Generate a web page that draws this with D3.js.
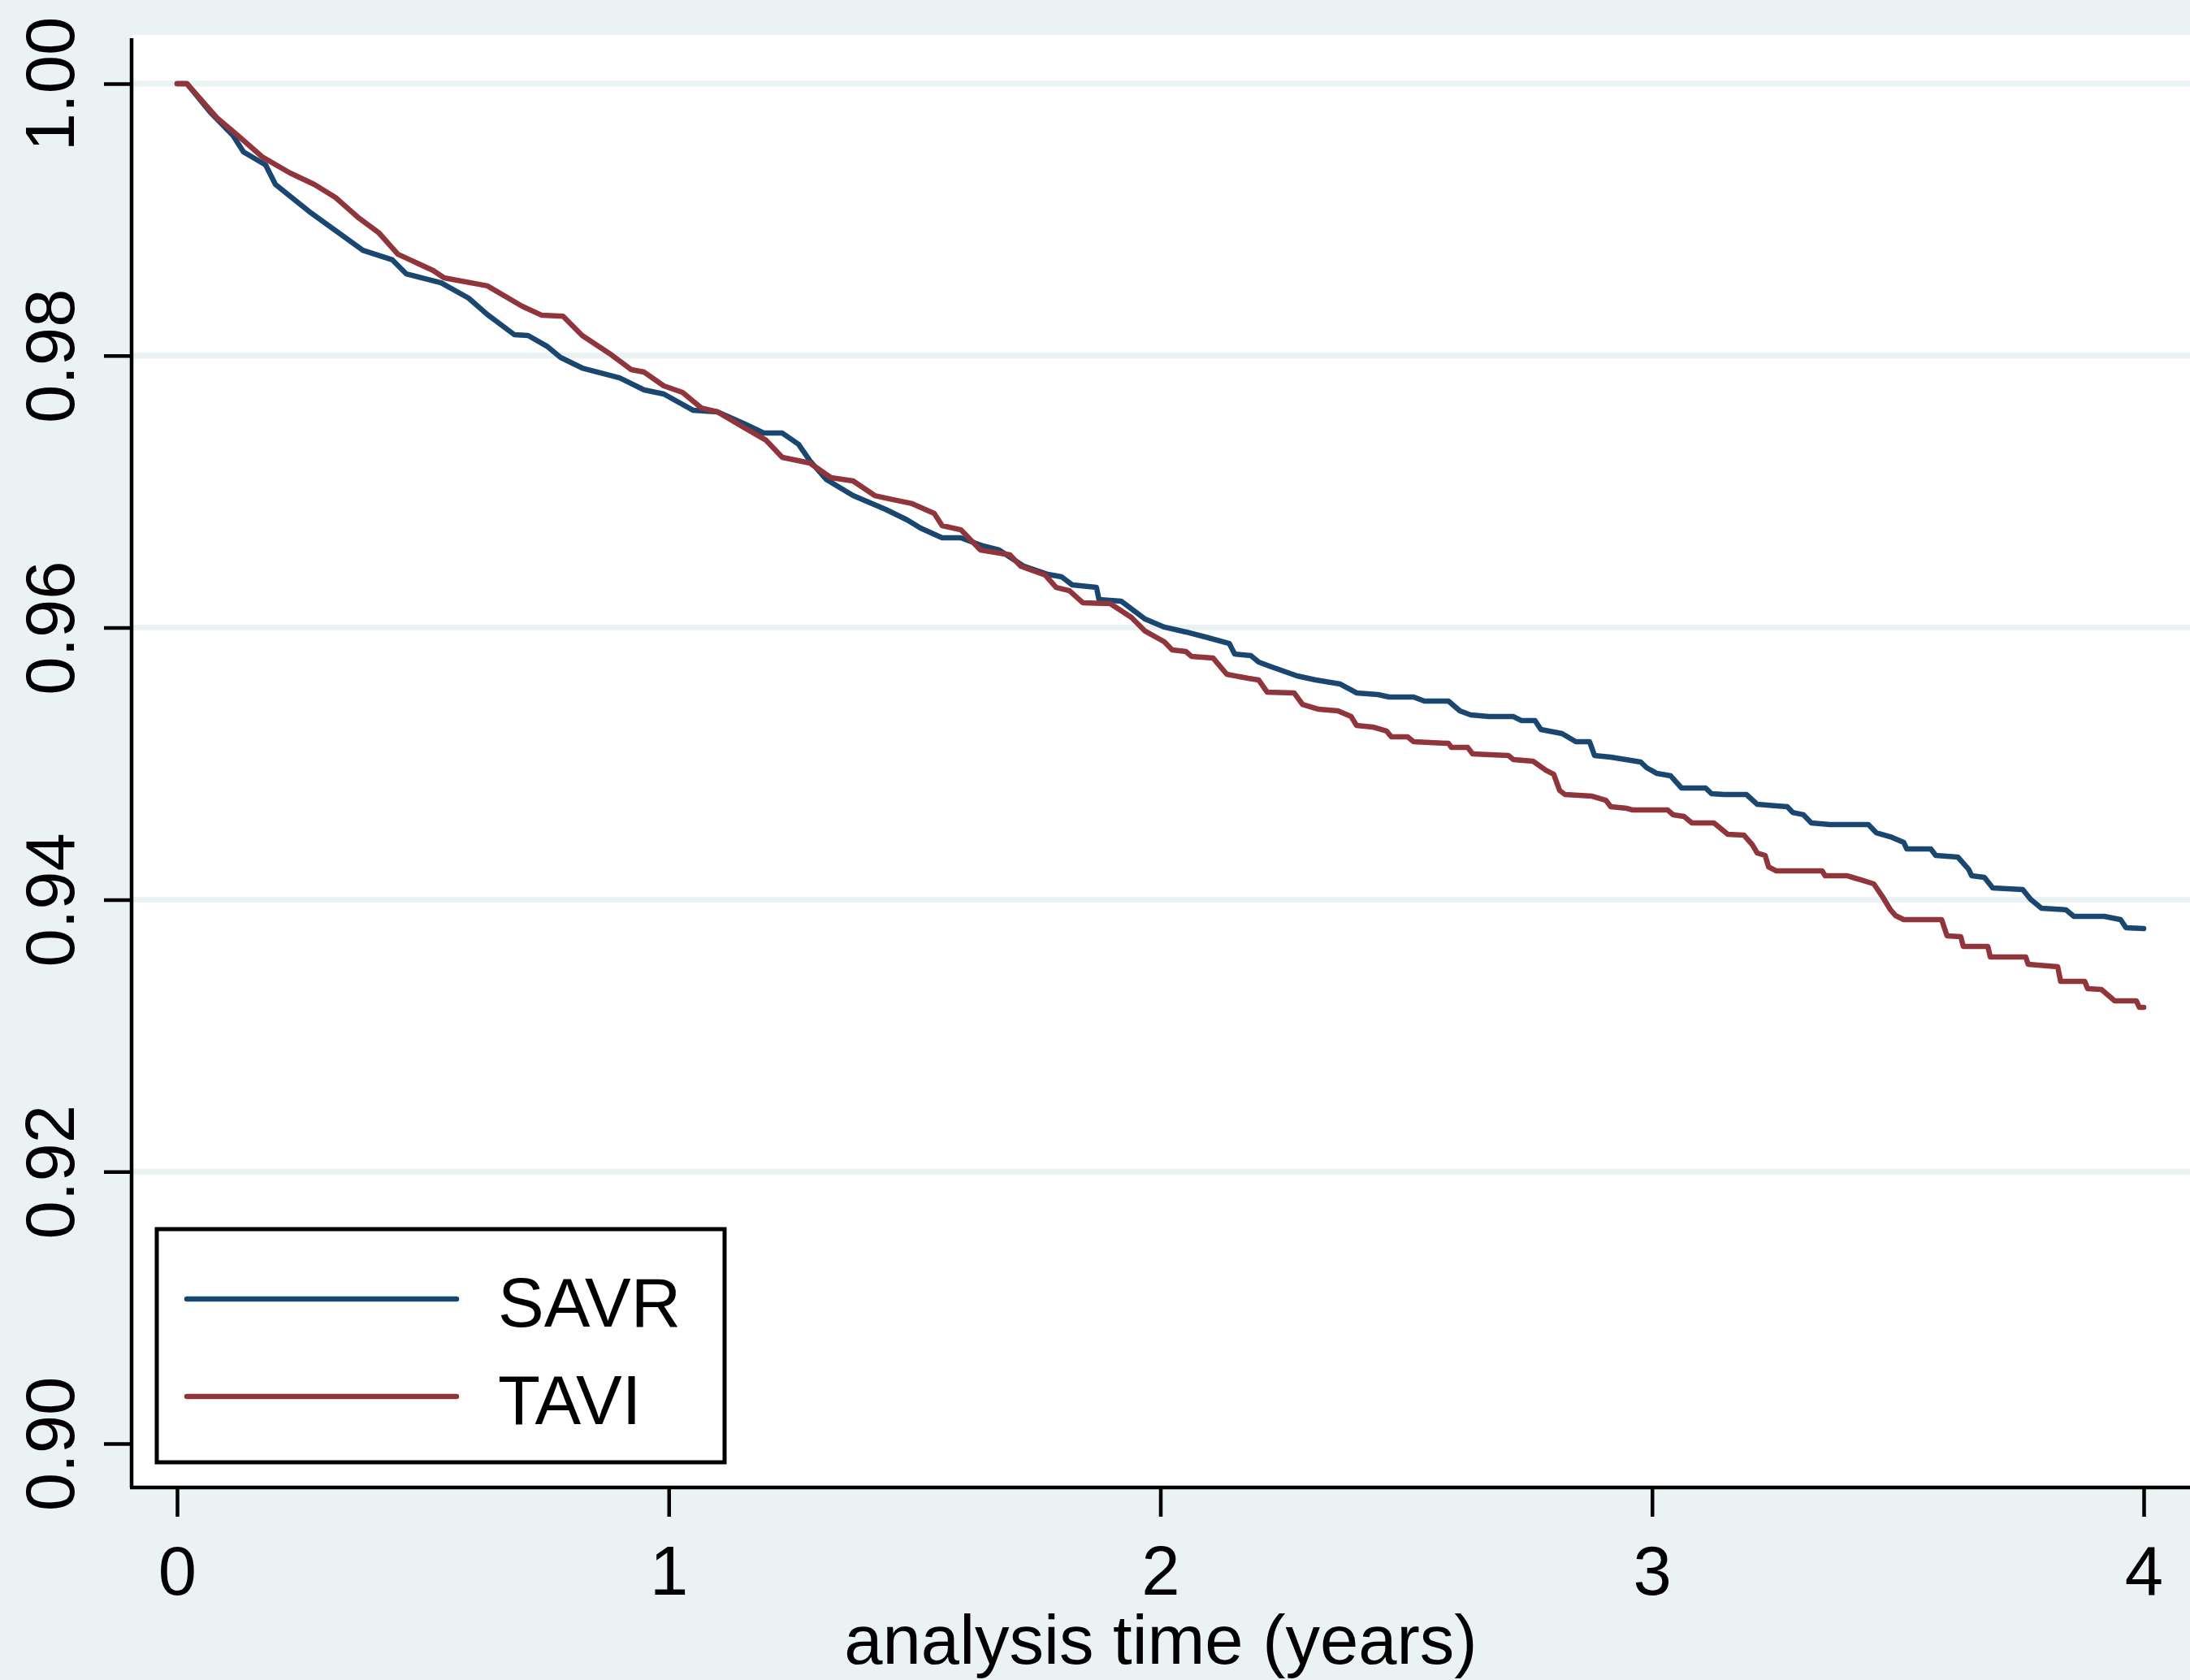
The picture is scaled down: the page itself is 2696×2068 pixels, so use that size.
<!DOCTYPE html>
<html lang="en">
<head>
<meta charset="UTF-8">
<title>Kaplan-Meier: SAVR vs TAVI</title>
<script src="https://d3js.org/d3.v7.min.js"></script>
<style>
    body { margin: 0; background: #eaf2f3; }
    svg { display: block; font-family: "Liberation Sans", Arial, sans-serif; }
</style>
</head>
<body>
<svg width="2696" height="2068"></svg>
<script>
// survival estimates: [time (years), survival]
const savr = [
    [0, 1.0], [0.02, 1.0], [0.07, 0.9978], [0.114, 0.99618], [0.135, 0.99498], [0.18, 0.99403],
    [0.20, 0.99259], [0.268, 0.99062], [0.284, 0.9902], [0.378, 0.98775], [0.438, 0.98704],
    [0.466, 0.98602], [0.537, 0.98536], [0.593, 0.98423], [0.631, 0.98303], [0.686, 0.98154],
    [0.714, 0.98148], [0.752, 0.9807], [0.78, 0.97987], [0.824, 0.97909], [0.9, 0.97837],
    [0.95, 0.97748], [0.99, 0.97718], [1.049, 0.97599], [1.099, 0.97587], [1.155, 0.97497],
    [1.193, 0.97431], [1.231, 0.97431], [1.264, 0.97348], [1.287, 0.97228], [1.32, 0.97091],
    [1.375, 0.96971], [1.441, 0.9687], [1.485, 0.96792], [1.512, 0.96732], [1.556, 0.96661],
    [1.594, 0.96661], [1.639, 0.96601], [1.672, 0.96571], [1.722, 0.96452], [1.771, 0.96392],
    [1.799, 0.96374], [1.821, 0.96314], [1.87, 0.96296], [1.875, 0.96207], [1.92, 0.96195],
    [1.969, 0.96063], [2.008, 0.96004], [2.052, 0.95968], [2.097, 0.95926], [2.14, 0.95884],
    [2.151, 0.95806], [2.184, 0.95794], [2.2, 0.95747], [2.222, 0.95717], [2.278, 0.95645],
    [2.316, 0.95615], [2.366, 0.95585], [2.399, 0.9552], [2.443, 0.95508], [2.465, 0.9549],
    [2.515, 0.9549], [2.537, 0.9546], [2.586, 0.9546], [2.609, 0.95388], [2.631, 0.95358],
    [2.668, 0.95346], [2.718, 0.95346], [2.734, 0.95317], [2.762, 0.95317], [2.774, 0.95251],
    [2.817, 0.95221], [2.845, 0.95161], [2.873, 0.95161], [2.883, 0.9506], [2.916, 0.95048],
    [2.977, 0.95012], [2.989, 0.9497], [3.01, 0.94928], [3.038, 0.9491], [3.06, 0.94821],
    [3.109, 0.94821], [3.121, 0.94779], [3.147, 0.94773], [3.192, 0.94773], [3.214, 0.94701],
    [3.253, 0.94689], [3.275, 0.94683], [3.286, 0.94641], [3.308, 0.94624], [3.324, 0.94564],
    [3.362, 0.94552], [3.44, 0.94552], [3.456, 0.94492], [3.485, 0.94462], [3.512, 0.9442],
    [3.518, 0.94373], [3.567, 0.94373], [3.577, 0.94325], [3.622, 0.94313], [3.644, 0.94223],
    [3.65, 0.94176], [3.676, 0.94164], [3.693, 0.94086], [3.754, 0.94074], [3.77, 0.94002],
    [3.792, 0.93937], [3.842, 0.93925], [3.858, 0.93877], [3.92, 0.93877], [3.953, 0.93853],
    [3.964, 0.93793], [4.0, 0.93787]
];

const tavi = [
    [0, 1.0], [0.02, 1.0], [0.081, 0.99749], [0.124, 0.99618], [0.173, 0.99462], [0.23, 0.99343],
    [0.279, 0.99259], [0.322, 0.99164], [0.367, 0.9902], [0.411, 0.98901], [0.449, 0.98746],
    [0.521, 0.98626], [0.543, 0.98572], [0.631, 0.98513], [0.702, 0.98363], [0.742, 0.98297],
    [0.785, 0.9829], [0.824, 0.98148], [0.879, 0.98017], [0.924, 0.97897], [0.95, 0.97879],
    [0.99, 0.97778], [1.028, 0.9773], [1.066, 0.97616], [1.099, 0.97587], [1.155, 0.97467],
    [1.198, 0.97378], [1.231, 0.97252], [1.287, 0.9721], [1.33, 0.97103], [1.375, 0.97079],
    [1.419, 0.96971], [1.457, 0.96941], [1.495, 0.96912], [1.54, 0.9684], [1.556, 0.9675],
    [1.594, 0.9672], [1.634, 0.96571], [1.694, 0.96535], [1.716, 0.96452], [1.766, 0.96386],
    [1.788, 0.96296], [1.815, 0.96272], [1.842, 0.96183], [1.898, 0.96177], [1.941, 0.96075],
    [1.969, 0.95974], [2.008, 0.95896], [2.024, 0.95836], [2.052, 0.95824], [2.063, 0.95789],
    [2.107, 0.95777], [2.135, 0.95657], [2.179, 0.95627], [2.2, 0.95615], [2.217, 0.95526],
    [2.272, 0.9552], [2.289, 0.95436], [2.322, 0.954], [2.361, 0.95388], [2.388, 0.95346],
    [2.399, 0.95281], [2.432, 0.95269], [2.46, 0.95239], [2.47, 0.95197], [2.503, 0.95197],
    [2.515, 0.95161], [2.586, 0.95149], [2.592, 0.95119], [2.625, 0.95119], [2.635, 0.95072],
    [2.708, 0.9506], [2.718, 0.9503], [2.758, 0.95018], [2.784, 0.94952], [2.8, 0.94922],
    [2.812, 0.94803], [2.823, 0.94773], [2.878, 0.94761], [2.906, 0.94731], [2.916, 0.94683],
    [2.949, 0.94671], [2.961, 0.94659], [3.032, 0.94659], [3.043, 0.94624], [3.065, 0.94612],
    [3.081, 0.94564], [3.126, 0.94564], [3.154, 0.9448], [3.187, 0.94474], [3.204, 0.94403],
    [3.214, 0.94343], [3.23, 0.94325], [3.237, 0.94241], [3.253, 0.94211], [3.346, 0.94211],
    [3.352, 0.94176], [3.396, 0.94176], [3.424, 0.94146], [3.451, 0.94116], [3.468, 0.94026],
    [3.485, 0.93925], [3.495, 0.93883], [3.512, 0.93853], [3.589, 0.93853], [3.6, 0.93733],
    [3.628, 0.93728], [3.633, 0.93656], [3.683, 0.93656], [3.688, 0.93578], [3.76, 0.93578],
    [3.765, 0.93524], [3.825, 0.93507], [3.831, 0.93399], [3.88, 0.93399], [3.886, 0.93345],
    [3.914, 0.93339], [3.941, 0.93256], [3.985, 0.93256], [3.991, 0.93208], [4.0, 0.93208]
];

const xTicks = [0, 1, 2, 3, 4];
const yTicks = [0.90, 0.92, 0.94, 0.96, 0.98, 1.00];
const gridTicks = [0.92, 0.94, 0.96, 0.98, 1.00];
const seriesNames = ['SAVR', 'TAVI'];
const seriesColors = ['#1a476f', '#90353b'];

const svg = d3.select('svg');
const bg = '#eaf2f3';
const font = 85;

// plot region edges
const plotL = 162, plotR = 2696, plotT = 43, plotB = 1831;

const x = d3.scaleLinear().domain([0, 4]).range([218, 2639]);
const y = d3.scaleLinear().domain([0.90, 1.00]).range([1777, 103]);

svg.append('rect').attr('width', 2696).attr('height', 2068).attr('fill', bg);
svg.append('rect')
    .attr('x', plotL).attr('y', plotT)
    .attr('width', plotR - plotL).attr('height', plotB - plotT)
    .attr('fill', 'white');

// gridlines
svg.append('g')
    .selectAll('line')
    .data(gridTicks)
    .enter().append('line')
    .attr('x1', plotL).attr('x2', plotR)
    .attr('y1', d => y(d)).attr('y2', d => y(d))
    .attr('stroke', bg)
    .attr('stroke-width', 7);

// curves
const line = d3.line()
    .x(d => x(d[0]))
    .y(d => y(d[1]));

[savr, tavi].forEach((data, i) => {
    svg.append('path')
        .datum(data)
        .attr('d', line)
        .attr('fill', 'none')
        .attr('stroke', seriesColors[i])
        .attr('stroke-width', 6.5)
        .attr('stroke-linejoin', 'round')
        .attr('stroke-linecap', 'round');
});

// y axis
const yAxis = svg.append('g')
    .attr('transform', `translate(${plotL},0)`)
    .call(d3.axisLeft(y).tickValues(yTicks).tickFormat(d3.format('.2f')).tickSize(34).tickPadding(0));
yAxis.select('.domain').attr('d', `M0,${plotT + 4}V${plotB}`);
yAxis.selectAll('line, path').attr('stroke', 'black').attr('stroke-width', 4.5);
yAxis.selectAll('text')
    .attr('transform', 'rotate(-90)')
    .attr('x', 0).attr('y', -71).attr('dy', 0)
    .attr('text-anchor', 'middle')
    .attr('fill', 'black')
    .style('font-size', font + 'px')
    .style('font-family', '"Liberation Sans", Arial, sans-serif');

// x axis
const xAxis = svg.append('g')
    .attr('transform', `translate(0,${plotB})`)
    .call(d3.axisBottom(x).tickValues(xTicks).tickFormat(d3.format('d')).tickSize(36));
xAxis.select('.domain').attr('d', `M${plotL - 2},0H${plotR}`);
xAxis.selectAll('line, path').attr('stroke', 'black').attr('stroke-width', 4.5);
xAxis.selectAll('text')
    .attr('y', 132).attr('dy', 0)
    .attr('fill', 'black')
    .style('font-size', font + 'px')
    .style('font-family', '"Liberation Sans", Arial, sans-serif');

svg.append('text')
    .attr('x', (plotL + plotR) / 2)
    .attr('y', 2048)
    .attr('text-anchor', 'middle')
    .style('font-size', font + 'px')
    .text('analysis time (years)');

// legend
const legend = svg.append('g').attr('transform', 'translate(193,1513)');
legend.append('rect')
    .attr('width', 699).attr('height', 287)
    .attr('fill', 'white').attr('stroke', 'black').attr('stroke-width', 5);

legend.selectAll('line.key')
    .data(seriesNames)
    .enter().append('line')
    .attr('class', 'key')
    .attr('x1', 37).attr('x2', 369)
    .attr('y1', (d, i) => 86 + i * 120).attr('y2', (d, i) => 86 + i * 120)
    .attr('stroke', (d, i) => seriesColors[i])
    .attr('stroke-width', 6.5)
    .attr('stroke-linecap', 'round');

legend.selectAll('text')
    .data(seriesNames)
    .enter().append('text')
    .attr('x', 420)
    .attr('y', (d, i) => 120 + i * 120)
    .style('font-size', font + 'px')
    .text(d => d);
</script>
</body>
</html>
